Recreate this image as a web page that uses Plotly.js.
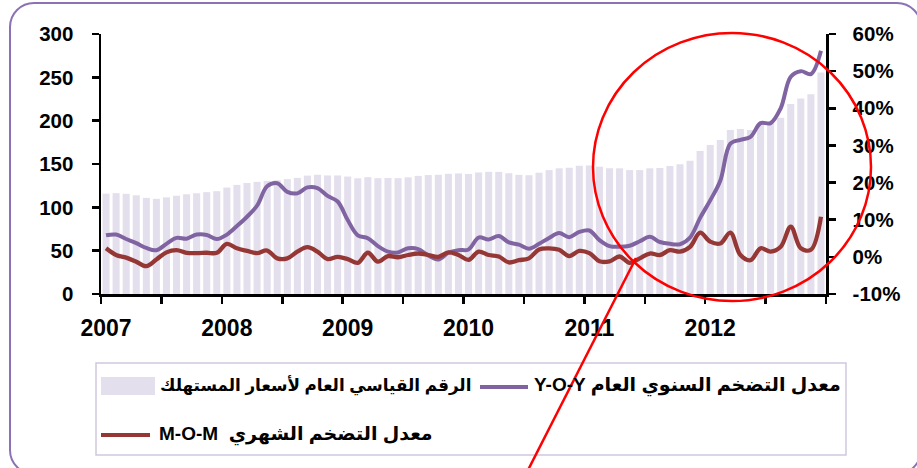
<!DOCTYPE html>
<html>
<head>
<meta charset="utf-8">
<script src="https://cdn.plot.ly/plotly-3.0.1.min.js"></script>
<style>
html,body{margin:0;padding:0;background:#ffffff;}
#chart{width:917px;height:468px;}
</style>
</head>
<body>
<div id="chart"></div>
<script>
// ---- data ----
const years = ['2007', '2008', '2009', '2010', '2011', '2012'];
const monthNumbers = ['01','02','03','04','05','06','07','08','09','10','11','12'];

// Consumer price index (left axis)
const cpi = [
  115.8, 116.3, 115.6, 113.9, 110.9, 109.8, 111.5, 113.4, 115.1, 116.2, 117.5, 118.6,
  122.8, 125.9, 128.1, 129.4, 130.5, 131.3, 132.5, 134.0, 136.6, 137.6, 136.8, 136.8,
  135.5, 133.5, 134.8, 133.6, 133.8, 133.6, 134.6, 136.3, 137.2, 137.6, 138.7, 139.1,
  138.5, 140.2, 141.0, 140.9, 139.3, 137.5, 137.0, 140.0, 143.0, 145.0, 145.7, 148.0,
  148.2, 146.9, 145.0, 145.0, 143.0, 143.0, 145.0, 145.4, 147.7, 149.8, 153.7, 165.0,
  171.8, 177.7, 189.2, 190.4, 189.2, 196.5, 196.9, 203.3, 219.2, 225.5, 230.6, 255.5
];

// Year-over-year inflation, % (right axis)
const yoy = [
  5.8, 6.0, 4.8, 3.7, 2.4, 1.8, 3.5, 5.1, 4.9, 6.0, 5.9, 4.8,
  6.0, 8.3, 10.8, 13.8, 19.0, 19.8, 17.5, 17.1, 18.7, 18.5, 16.4, 14.9,
  9.9, 5.8, 5.0, 2.9, 1.4, 1.2, 2.3, 2.1, 0.4, -0.7, 1.1, 1.8,
  2.0, 5.2, 4.7, 5.6, 3.9, 3.3, 2.2, 3.5, 5.1, 6.4, 5.3, 6.7,
  7.1, 4.5, 2.9, 2.7, 3.0, 4.2, 5.4, 4.0, 3.5, 3.4, 5.2, 10.5,
  15.2, 20.5, 30.5, 31.5, 32.3, 36.0, 36.0, 40.0, 48.5, 50.0, 49.2, 55.5
];

// Month-over-month inflation, % (right axis)
const mom = [
  2.3, 0.5, -0.2, -1.3, -2.5, -0.7, 1.2, 1.8, 1.1, 1.0, 1.1, 1.1,
  3.5, 2.3, 1.6, 1.0, 1.7, -0.4, -0.4, 1.4, 2.6, 1.4, -0.6, 0.0,
  -0.6, -1.6, 1.1, -1.3, 0.2, -0.1, 0.5, 0.9, 0.5, 0.0, 1.2, 0.5,
  -0.8, 1.4, 0.5, 0.1, -1.5, -0.9, -0.4, 2.0, 2.3, 1.9, 0.2, 1.6,
  1.0, -1.2, -1.2, 0.1, -1.6, -0.4, 0.9, 0.5, 1.8, 1.4, 2.7, 6.5,
  4.1, 3.6, 6.5, 0.5, -0.9, 2.3, 1.4, 2.7, 8.1, 2.3, 1.9, 10.8
];

const leftTicks = [0, 50, 100, 150, 200, 250, 300];
const rightTicks = [-10, 0, 10, 20, 30, 40, 50, 60];

const nameCpi = 'الرقم القياسي العام لأسعار المستهلك';
const nameYoy = 'Y-O-Y معدل التضخم السنوي العام';
const nameMom = 'M-O-M  معدل التضخم الشهري';

// ---- derived ----
const months = [];
years.forEach(y => monthNumbers.forEach(m => months.push(y + '-' + m)));
const xIdx = months.map((_, i) => i);
const yearTickVals = years.map((_, i) => i * 12);
const halfYearBounds = [];
for (let b = 0; b <= months.length; b += 6) halfYearBounds.push(b - 0.5);
const rightTickText = rightTicks.map(v => v + '%');

// ---- geometry helpers (pixel -> paper) ----
const W = 917, H = 468, PL = 101, PR = 826, PT = 34, PB = 294;
const px = X => (X - PL) / (PR - PL);
const py = Y => (PB - Y) / (PB - PT);

const purple = '#8064A2';
const brown = '#953735';
const lilac = '#E4DFEC';
const fontFam = 'Liberation Sans, Arial, DejaVu Sans, sans-serif';

function roundRectPath(x0, y0, x1, y1, r) {
  const k = 0.5523 * r;
  const P = (X, Y) => px(X).toFixed(5) + ',' + py(Y).toFixed(5);
  return 'M' + P(x0 + r, y0) +
    ' L' + P(x1 - r, y0) +
    ' C' + P(x1 - r + k, y0) + ' ' + P(x1, y0 + r - k) + ' ' + P(x1, y0 + r) +
    ' L' + P(x1, y1 - r) +
    ' C' + P(x1, y1 - r + k) + ' ' + P(x1 - r + k, y1) + ' ' + P(x1 - r, y1) +
    ' L' + P(x0 + r, y1) +
    ' C' + P(x0 + r - k, y1) + ' ' + P(x0, y1 - r + k) + ' ' + P(x0, y1 - r) +
    ' L' + P(x0, y0 + r) +
    ' C' + P(x0, y0 + r - k) + ' ' + P(x0 + r - k, y0) + ' ' + P(x0 + r, y0) + ' Z';
}

const traces = [
  {
    type: 'bar', x: xIdx, y: cpi, name: nameCpi,
    marker: {color: lilac}, hoverinfo: 'skip'
  },
  {
    type: 'scatter', mode: 'lines', x: xIdx, y: yoy, name: nameYoy, yaxis: 'y2',
    line: {color: purple, width: 4, shape: 'spline', smoothing: 1}, hoverinfo: 'skip'
  },
  {
    type: 'scatter', mode: 'lines', x: xIdx, y: mom, name: nameMom, yaxis: 'y2',
    line: {color: brown, width: 4.3, shape: 'spline', smoothing: 1}, hoverinfo: 'skip'
  }
];

const axisCommon = {
  showline: true, linecolor: '#000', linewidth: 2.5,
  showgrid: false, zeroline: false,
  ticks: 'outside', ticklen: 7, tickwidth: 2.5, tickcolor: '#000',
  tickfont: {family: fontFam, size: 20.5, color: '#000', weight: 'bold'},
  fixedrange: true
};

const legendFont = (s) => ({family: fontFam, size: s, color: '#000', weight: 'bold'});

const layout = {
  width: W, height: H,
  margin: {l: PL, r: W - PR, t: PT, b: H - PB, autoexpand: false},
  paper_bgcolor: '#fff', plot_bgcolor: '#fff',
  showlegend: false,
  bargap: 0.3,
  xaxis: {
    range: [-0.5, months.length - 0.5],
    tickmode: 'array', tickvals: yearTickVals, ticktext: years,
    showline: true, linecolor: '#000', linewidth: 2.5,
    showgrid: false, zeroline: false, ticks: '',
    ticklabelstandoff: 12,
    tickfont: {family: fontFam, size: 23, color: '#000', weight: 'bold'},
    minor: {tickmode: 'array', tickvals: halfYearBounds, ticks: 'outside',
            ticklen: 7, tickwidth: 2.5, tickcolor: '#000', showgrid: false},
    fixedrange: true
  },
  yaxis: Object.assign({}, axisCommon, {
    range: [0, 300], tickmode: 'array', tickvals: leftTicks,
    ticklabelstandoff: 14
  }),
  yaxis2: Object.assign({}, axisCommon, {
    overlaying: 'y', side: 'right', anchor: 'x',
    range: [-10, 60], tickmode: 'array', tickvals: rightTicks, ticktext: rightTickText,
    ticklabelstandoff: 13
  }),
  shapes: [
    // outer rounded frame
    {type: 'path', xref: 'paper', yref: 'paper', path: roundRectPath(10, 3, 921, 474, 24),
     line: {color: '#8C72B4', width: 2}, fillcolor: 'rgba(0,0,0,0)', layer: 'above'},
    // legend box
    {type: 'rect', xref: 'paper', yref: 'paper', x0: px(96), x1: px(846), y0: py(363), y1: py(455),
     line: {color: '#CFC7DD', width: 1.5}, fillcolor: 'rgba(0,0,0,0)'},
    // legend swatches
    {type: 'rect', xref: 'paper', yref: 'paper', x0: px(101), x1: px(155), y0: py(377), y1: py(395),
     line: {width: 0}, fillcolor: lilac},
    {type: 'line', xref: 'paper', yref: 'paper', x0: px(480), x1: px(528), y0: py(387), y1: py(387),
     line: {color: purple, width: 4}},
    {type: 'line', xref: 'paper', yref: 'paper', x0: px(101), x1: px(150), y0: py(435), y1: py(435),
     line: {color: brown, width: 4}},
    // red highlight circle and pointer line
    {type: 'circle', xref: 'paper', yref: 'paper', x0: px(593), x1: px(871), y0: py(301), y1: py(33),
     line: {color: '#FF0000', width: 2.5}, layer: 'above'},
    {type: 'line', xref: 'paper', yref: 'paper', x0: px(636), y0: py(258), x1: px(526), y1: py(474),
     line: {color: '#FF0000', width: 2.5}, layer: 'above'}
  ],
  annotations: [
    {xref: 'paper', yref: 'paper', x: px(158), y: py(385), xanchor: 'left', yanchor: 'middle',
     text: nameCpi, showarrow: false, font: legendFont(16.8)},
    {xref: 'paper', yref: 'paper', x: px(532), y: py(385), xanchor: 'left', yanchor: 'middle',
     text: nameYoy, showarrow: false, font: legendFont(19)},
    {xref: 'paper', yref: 'paper', x: px(157), y: py(435), xanchor: 'left', yanchor: 'middle',
     text: nameMom, showarrow: false, font: legendFont(19)}
  ]
};

Plotly.newPlot('chart', traces, layout, {staticPlot: true, displayModeBar: false});
</script>
</body>
</html>
